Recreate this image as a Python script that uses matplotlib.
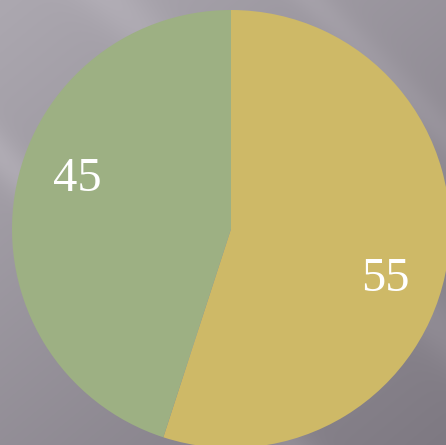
import matplotlib.pyplot as plt
import numpy as np

# data
labels = ["55", "45"]
values = [55, 45]
colors = ["#CEB967", "#9DB083"]

W, H = 446, 445
fig = plt.figure(figsize=(W / 100, H / 100), dpi=100)

# background: grey gradient, lighter at top-left, with soft diagonal streaks
bg = fig.add_axes([0, 0, 1, 1])
yy, xx = np.mgrid[0:H, 0:W]
t = (xx / W * 0.45 + yy / H * 0.55)
light = np.array([172, 168, 176]) / 255
dark = np.array([126, 121, 130]) / 255
img = light[None, None, :] * (1 - t[..., None]) + dark[None, None, :] * t[..., None]
d = (xx - yy) / W
for c0, w, a in [(-0.35, 0.06, 0.05), (0.25, 0.08, 0.04), (0.7, 0.05, 0.03)]:
    img += a * np.exp(-((d - c0) / w) ** 2)[..., None]
bg.imshow(np.clip(img, 0, 1), extent=[0, W, H, 0], aspect="auto")
bg.axis("off")

# pie: centre ~ (231, 229) px, radius ~219 px
cx, cy, r = 231, 229, 219
ax = fig.add_axes([(cx - r) / W, (H - cy - r) / H, 2 * r / W, 2 * r / H])
wedges, _ = ax.pie(values, colors=colors, startangle=90, counterclock=False,
                   wedgeprops=dict(linewidth=0))
ax.set_xlim(-1, 1)
ax.set_ylim(-1, 1)
ax.set_aspect("equal")
ax.axis("off")

for wdg, lab in zip(wedges, labels):
    mid = np.deg2rad((wdg.theta1 + wdg.theta2) / 2 - 9)
    ax.text(0.74 * np.cos(mid), 0.74 * np.sin(mid), lab, color="white",
            fontsize=35, family="Liberation Serif", ha="center", va="center")

fig.savefig("out.png", dpi=100)
